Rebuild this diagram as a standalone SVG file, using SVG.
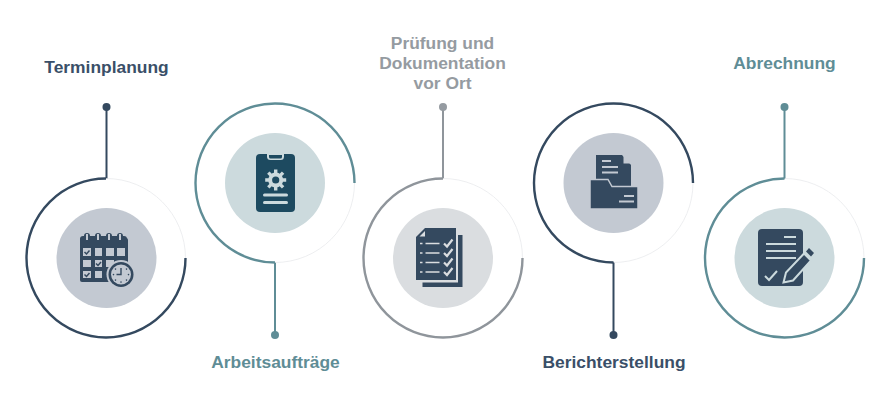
<svg xmlns="http://www.w3.org/2000/svg" width="887" height="410" viewBox="0 0 887 410">
<style>
.lbl{font-family:"Liberation Sans",Arial,sans-serif;font-weight:700;font-size:17.4px;text-anchor:middle}
.ring{fill:none;stroke-width:2.4}
.faint{fill:none;stroke:#e8eaec;stroke-width:.8}
.line{fill:none;stroke-width:2}
.navy{fill:#3a4f68}.teal{fill:#5f8d96}.grey{fill:#959ba1}
.dot-navy{fill:#34495f}
.snavy{stroke:#34495f}.steal{stroke:#5f8d96}.sgrey{stroke:#8f959b}
.ic{fill:#34495f}
</style>
<rect width="887" height="410" fill="#fff"/>
<g id="connectors">
<path class="line snavy" d="M106.500 107V179"/><circle cx="106.500" cy="107" r="4" class="dot-navy"/>
<path class="line steal" d="M275 262V335"/><circle cx="275" cy="335" r="4" class="teal"/>
<path class="line sgrey" d="M443 107V179"/><circle cx="443" cy="107" r="4" class="grey"/>
<path class="line snavy" d="M613.500 262V335"/><circle cx="613.500" cy="335" r="4" class="dot-navy"/>
<path class="line steal" d="M784.500 107V179"/><circle cx="784.500" cy="107" r="4" class="teal"/>
</g>
<g id="node-terminplanung">
<text class="lbl navy" x="106.500" y="73">Terminplanung</text>
<path class="faint" d="M106 178.500A79.500 79.500 0 0 1 185.500 258"/>
<path class="ring snavy" d="M106 178.500A79.500 79.500 0 1 0 185.500 258"/>
<circle cx="106.500" cy="258" r="50" fill="#c3c9d2"/>
<rect x="80" y="238" width="48" height="44" rx="2" class="ic"/>
<path class="ic" d="M80 243v-4a3 3 0 0 1 3-3h1a3 3 0 0 1 6 0h5a3 3 0 0 1 6 0h5a3 3 0 0 1 6 0h5a3 3 0 0 1 6 0h1a3 3 0 0 1 3 3v4z"/>
<g fill="#c3c9d2">
<rect x="83" y="248" width="8" height="8"/><rect x="95" y="248" width="7" height="8"/><rect x="106" y="248" width="8" height="8"/><rect x="117" y="248" width="8" height="8"/>
<rect x="83" y="260" width="8" height="7"/><rect x="95" y="260" width="7" height="7"/><rect x="106" y="260" width="8" height="7"/>
<rect x="83" y="271" width="8" height="7"/><rect x="95" y="271" width="7" height="7"/>
<rect x="86" y="234" width="2" height="6"/><rect x="97" y="234" width="2" height="6"/><rect x="108" y="234" width="2" height="6"/><rect x="119" y="234" width="2" height="6"/>
</g>
<path d="M84.500 252l2 2 3-3.500M96 263.500l2 2 3-3.500M84.500 274.500l2 2 3-3.500" fill="none" stroke="#34495f" stroke-width="1.500"/>
<circle cx="121" cy="274.500" r="14.500" fill="#c3c9d2"/>
<circle cx="121" cy="274.500" r="12.500" class="ic"/>
<circle cx="121" cy="274.500" r="10" fill="#c3c9d2"/>
<path d="M121 268v6.500h-4.500" fill="none" stroke="#34495f" stroke-width="1.400"/>
<path d="M121 282v.1M128.500 274.500v.1M113.500 274.500v.1M126.500 269v.1M115.500 280v.1M126.500 280v.1M115.500 269v.1" stroke="#34495f" stroke-width="1.600" stroke-linecap="round"/>
</g>
<g id="node-arbeitsauftraege">
<text class="lbl teal" x="275.500" y="368">Arbeitsaufträge</text>
<path class="faint" d="M354.500 183A79.500 79.500 0 0 1 275 262.500"/>
<path class="ring steal" d="M275 262.500A79.500 79.500 0 1 1 354.500 183"/>
<circle cx="275" cy="183" r="50" fill="#ccdadd"/>
<rect x="256" y="154" width="39" height="58" rx="4" fill="#1d4a60"/>
<path d="M267 154v2.500a3.500 3.500 0 0 0 3.500 3.500h10a3.500 3.500 0 0 0 3.500-3.500V154" fill="#ccdadd"/>
<path d="M269 155h13v2a1.500 1.500 0 0 1-1.500 1.500h-10a1.500 1.500 0 0 1-1.500-1.500z" fill="#1d4a60"/>
<path d="M275.700 169.500v21M265.200 180h21M268.300 172.600l14.800 14.800M283.100 172.600l-14.800 14.800" stroke="#ccdadd" stroke-width="3.400"/>
<circle cx="275.700" cy="180" r="7.500" fill="#ccdadd"/>
<circle cx="275.700" cy="180" r="3.600" fill="#1d4a60"/>
<rect x="263" y="193.500" width="25" height="3" rx="1.500" fill="#ccdadd"/><rect x="263" y="201" width="25" height="3" rx="1.500" fill="#ccdadd"/>
</g>
<g id="node-pruefung">
<text class="lbl grey"><tspan x="442.500" y="49">Prüfung und</tspan><tspan x="442.500" y="69">Dokumentation</tspan><tspan x="442.500" y="89">vor Ort</tspan></text>
<path class="faint" d="M443 178.500A79.500 79.500 0 0 1 522.500 258"/>
<path class="ring sgrey" d="M443 178.500A79.500 79.500 0 1 0 522.500 258"/>
<circle cx="443" cy="258" r="50" fill="#dadde0"/>
<path class="ic" d="M458 235H462.500V287H422.500V282.500H458Z"/>
<path class="ic" d="M425 228H456V280H416V237Z"/>
<path fill="#dadde0" d="M425 231v5.500h-5.500z"/>
<g stroke="#dadde0" stroke-width="1.600" fill="none"><path d="M420 243.500h2.500M425.500 243.500h14M420 253h2.500M425.500 253h14M420 262.500h2.500M425.500 262.500h14M420 272h2.500M425.500 272h14"/>
<path stroke-width="2.200" d="M444 243.500l3 3 5.500-7M444 253l3 3 5.500-7M444 262.500l3 3 5.500-7M444 272l3 3 5.500-7"/></g>
</g>
<g id="node-berichterstellung">
<text class="lbl navy" x="614" y="368">Berichterstellung</text>
<path class="faint" d="M693 183A79.500 79.500 0 0 1 613.500 262.500"/>
<path class="ring snavy" d="M613.500 262.500A79.500 79.500 0 1 1 693 183"/>
<circle cx="613.500" cy="183" r="50" fill="#c3c9d2"/>
<path class="ic" d="M596 155H622L631 165V190H596Z"/>
<path fill="#c3c9d2" d="M623.500 155v8.500h7.500z"/>
<path stroke="#c3c9d2" stroke-width="2" d="M602 161h9M602 167h16M602 172.500h16"/>
<path class="ic" stroke="#c3c9d2" stroke-width="1.500" d="M590 179.500H608L612 186.500H638V209H590Z"/>
<path stroke="#c3c9d2" stroke-width="2" d="M624 196h10M619 201.500h15"/>
</g>
<g id="node-abrechnung">
<text class="lbl teal" x="784.500" y="69">Abrechnung</text>
<path class="faint" d="M784.500 178.500A79.500 79.500 0 0 1 864 258"/>
<path class="ring steal" d="M784.500 178.500A79.500 79.500 0 1 0 864 258"/>
<circle cx="784.500" cy="258" r="50" fill="#ccdadd"/>
<rect x="758" y="229" width="45" height="57" rx="4" class="ic"/>
<g stroke="#ccdadd" stroke-width="2"><path d="M784 237h12M766 244h30M766 251h30M766 258h30"/></g>
<path d="M765 276l4 4 8-9" fill="none" stroke="#ccdadd" stroke-width="2"/>
<path d="M783.500 282.500l2.500-10 18-19 7 7-18 20z" class="ic" stroke="#ccdadd" stroke-width="2"/>
<path d="M806 251.500l3-3.500 5 5-3 3.500z" class="ic"/>
</g>
</svg>
